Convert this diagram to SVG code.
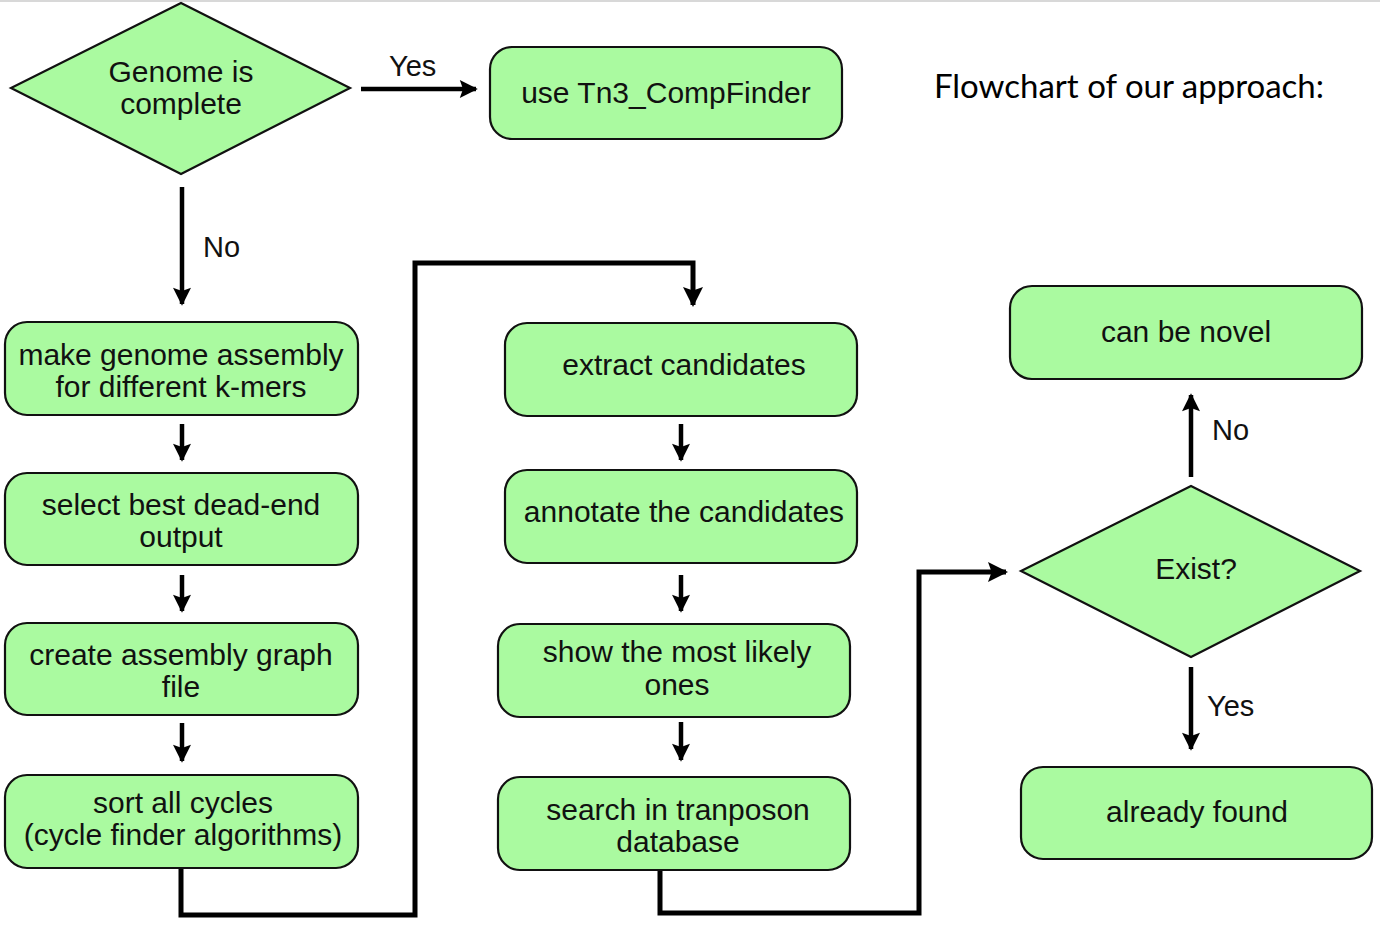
<svg xmlns="http://www.w3.org/2000/svg" width="1380" height="938" viewBox="0 0 1380 938">
<defs>
<style>
.box{fill:#aafaa0;stroke:#111;stroke-width:2.2}
.t{font-family:"Liberation Sans",Arial,sans-serif;font-size:30px;fill:#111;text-anchor:middle}
.lbl{font-family:"Liberation Sans",Arial,sans-serif;font-size:29px;fill:#111}
.c{fill:none;stroke:#000;stroke-width:4.5;stroke-linejoin:miter}
.e{fill:none;stroke:#000;stroke-width:5;stroke-linejoin:miter}
</style>
<marker id="ah" viewBox="0 0 10 10" refX="9" refY="5" markerWidth="4.4" markerHeight="4.0" markerUnits="strokeWidth" orient="auto">
<path d="M0,0 L10,5 L0,10 L1.8,5 Z" fill="#000"/>
</marker>
</defs>
<rect width="1380" height="938" fill="#fff"/>
<line x1="0" y1="1" x2="1380" y2="1" stroke="#d8d8d8" stroke-width="2"/>

<text x="1129" y="98" style="font-family:Lato,'Noto Sans',sans-serif;font-size:33px;fill:#000;text-anchor:middle">Flowchart of our approach:</text>

<g id="connectors">
<path class="c" d="M361,89 H476" marker-end="url(#ah)"/>
<path class="c" d="M182,187 V304" marker-end="url(#ah)"/>
<path class="c" d="M182,424 V460" marker-end="url(#ah)"/>
<path class="c" d="M182,575 V611" marker-end="url(#ah)"/>
<path class="c" d="M182,723 V761" marker-end="url(#ah)"/>
<path class="e" d="M181,868 V915 H415 V263 H693 V305" marker-end="url(#ah)"/>
<path class="c" d="M681,424 V460" marker-end="url(#ah)"/>
<path class="c" d="M681,575 V611" marker-end="url(#ah)"/>
<path class="c" d="M681,722 V760" marker-end="url(#ah)"/>
<path class="e" d="M660,870 V913 H919 V572 H1006" marker-end="url(#ah)"/>
<path class="c" d="M1191,477 V395" marker-end="url(#ah)"/>
<path class="c" d="M1191,667 V749" marker-end="url(#ah)"/>
<text class="lbl" x="389" y="76">Yes</text>
<text class="lbl" x="203" y="257">No</text>
<text class="lbl" x="1212" y="440">No</text>
<text class="lbl" x="1207" y="716">Yes</text>
</g>

<g id="genome-complete">
<polygon class="box" points="181,3 350,88 181,174 11,88"/>
<text class="t" x="181" y="82">Genome is</text>
<text class="t" x="181" y="114">complete</text>
</g>
<g id="use-tn3">
<rect class="box" x="490" y="47" width="352" height="92" rx="22"/>
<text class="t" x="666" y="103">use Tn3_CompFinder</text>
</g>
<g id="make-assembly">
<rect class="box" x="5" y="322" width="353" height="93" rx="22"/>
<text class="t" x="181" y="365">make genome assembly</text>
<text class="t" x="181" y="397">for different k-mers</text>
</g>
<g id="select-best">
<rect class="box" x="5" y="473" width="353" height="92" rx="22"/>
<text class="t" x="181" y="515">select best dead-end</text>
<text class="t" x="181" y="547">output</text>
</g>
<g id="create-graph">
<rect class="box" x="5" y="623" width="353" height="92" rx="22"/>
<text class="t" x="181" y="665">create assembly graph</text>
<text class="t" x="181" y="697">file</text>
</g>
<g id="sort-cycles">
<rect class="box" x="5" y="775" width="353" height="93" rx="22"/>
<text class="t" x="183" y="813">sort all cycles</text>
<text class="t" x="183" y="845">(cycle finder algorithms)</text>
</g>
<g id="extract">
<rect class="box" x="505" y="323" width="352" height="93" rx="22"/>
<text class="t" x="684" y="375">extract candidates</text>
</g>
<g id="annotate">
<rect class="box" x="505" y="470" width="352" height="93" rx="22"/>
<text class="t" x="684" y="522">annotate the candidates</text>
</g>
<g id="show-likely">
<rect class="box" x="498" y="624" width="352" height="93" rx="22"/>
<text class="t" x="677" y="662">show the most likely</text>
<text class="t" x="677" y="695">ones</text>
</g>
<g id="search-db">
<rect class="box" x="498" y="777" width="352" height="93" rx="22"/>
<text class="t" x="678" y="820">search in tranposon</text>
<text class="t" x="678" y="852">database</text>
</g>
<g id="can-be-novel">
<rect class="box" x="1010" y="286" width="352" height="93" rx="22"/>
<text class="t" x="1186" y="342">can be novel</text>
</g>
<g id="exist">
<polygon class="box" points="1191,486 1360,571 1191,657 1021,571"/>
<text class="t" x="1196" y="579">Exist?</text>
</g>
<g id="already-found">
<rect class="box" x="1021" y="767" width="351" height="92" rx="22"/>
<text class="t" x="1197" y="822">already found</text>
</g>
</svg>
